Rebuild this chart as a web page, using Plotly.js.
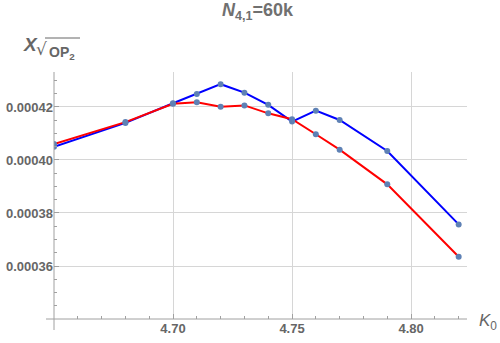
<!DOCTYPE html>
<html>
<head>
<meta charset="utf-8">
<script src="https://cdn.plot.ly/plotly-3.0.1.min.js"></script>
<style>html,body{margin:0;padding:0;background:#fff;}#chart{width:500px;height:343px;}</style>
</head>
<body>
<div id="chart"></div>
<script>
// kappa_0 values (x)
var kappa = [4.65, 4.68, 4.70, 4.71, 4.72, 4.73, 4.74, 4.75, 4.76, 4.77, 4.79, 4.82];
// blue series
var blueVals = [0.000405, 0.000414, 0.0004214, 0.0004249, 0.0004286, 0.0004254, 0.0004208, 0.0004145, 0.0004186, 0.0004151, 0.0004034, 0.0003757];
// red series
var redVals = [0.000406, 0.0004143, 0.0004212, 0.0004218, 0.0004201, 0.0004206, 0.0004176, 0.0004154, 0.0004097, 0.0004039, 0.0003908, 0.0003635];
// tick labels
var xTicks = [4.70, 4.75, 4.80];
var xTickText = ["4.70", "4.75", "4.80"];
var yTicks = [0.00036, 0.00038, 0.00040, 0.00042];
var yTickText = ["0.00036", "0.00038", "0.00040", "0.00042"];

var markerColor = '#5e81b5';
var traces = [
  {x: kappa, y: blueVals, mode: 'lines', line: {color: '#0000ff', width: 2}, hoverinfo: 'none'},
  {x: kappa, y: redVals, mode: 'lines', line: {color: '#ff0000', width: 2}, hoverinfo: 'none'},
  {x: kappa, y: blueVals, mode: 'markers', marker: {color: markerColor, size: 6}, hoverinfo: 'none'},
  {x: kappa, y: redVals, mode: 'markers', marker: {color: markerColor, size: 6}, hoverinfo: 'none'}
];

var FF = 'Liberation Sans, Arial, sans-serif';
var axisColor = '#a0a0a0';
function px(x) { return (x - 54) / 413; }
function py(y) { return (319 - y) / 247; }

var layout = {
  width: 500, height: 343,
  margin: {l: 54, r: 33, t: 72, b: 24},
  paper_bgcolor: '#fff', plot_bgcolor: '#fff',
  showlegend: false,
  title: {text: '<b><i>N</i><sub>4,1</sub>=60k</b>', x: 0.515, xanchor: 'center', y: 0.99, yanchor: 'top',
          font: {family: FF, size: 18, color: '#707070'}},
  xaxis: {
    range: [4.65, 4.8235], tickmode: 'array', tickvals: xTicks, ticktext: xTickText,
    showgrid: true, gridcolor: '#d6d6d6', gridwidth: 1, zeroline: false, showline: false,
    ticks: 'inside', ticklen: 5, tickcolor: axisColor, tickwidth: 1,
    minor: {tickmode: 'linear', tick0: 4.65, dtick: 0.01, ticks: 'inside', ticklen: 3, tickcolor: axisColor, showgrid: false},
    tickfont: {family: FF, size: 13, color: '#666', weight: 'bold'}
  },
  yaxis: {
    range: [0.00034, 0.0004332], tickmode: 'array', tickvals: yTicks, ticktext: yTickText,
    showgrid: true, gridcolor: '#d6d6d6', gridwidth: 1, zeroline: false, showline: false,
    ticks: 'inside', ticklen: 5, tickcolor: axisColor, tickwidth: 1,
    minor: {tickmode: 'linear', tick0: 0.00034, dtick: 0.000005, ticks: 'inside', ticklen: 3, tickcolor: axisColor, showgrid: false},
    tickfont: {family: FF, size: 13, color: '#666', weight: 'bold'}
  },
  shapes: [
    {type: 'line', xref: 'paper', yref: 'paper', x0: px(46), x1: 1, y0: 0, y1: 0, line: {color: axisColor, width: 1}},
    {type: 'line', xref: 'paper', yref: 'paper', x0: 0, x1: 0, y0: py(330), y1: 1, line: {color: axisColor, width: 1}},
    // overline of the square root in the y label
    {type: 'line', xref: 'paper', yref: 'paper', x0: px(45), x1: px(80), y0: py(38), y1: py(38), line: {color: '#666', width: 1}}
  ],
  annotations: [
    {text: '<b><i>X</i></b>', xref: 'paper', yref: 'paper', x: px(21), y: py(45),
     xanchor: 'left', yanchor: 'middle', showarrow: false,
     font: {family: FF, size: 19, color: '#666'}},
    {text: '√', xref: 'paper', yref: 'paper', x: px(34), y: py(49),
     xanchor: 'left', yanchor: 'middle', showarrow: false,
     font: {family: 'DejaVu Sans, sans-serif', size: 17, color: '#666'}},
    {text: '<b>OP<sub>2</sub></b>', xref: 'paper', yref: 'paper', x: px(47), y: py(53),
     xanchor: 'left', yanchor: 'middle', showarrow: false,
     font: {family: FF, size: 14, color: '#666'}},
    {text: '<i>K</i><sub>0</sub>', xref: 'paper', yref: 'paper', x: px(477), y: py(322),
     xanchor: 'left', yanchor: 'middle', showarrow: false,
     font: {family: FF, size: 17, color: '#666'}}
  ]
};

Plotly.newPlot('chart', traces, layout, {staticPlot: true, displayModeBar: false});
</script>
</body>
</html>
